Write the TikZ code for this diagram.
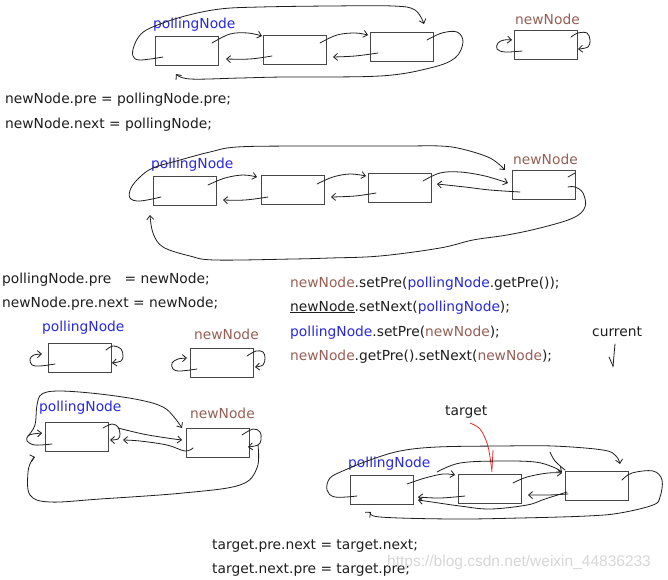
\documentclass[tikz,border=0pt]{standalone}
\usepackage{fontspec}
\setmainfont{DejaVu Sans}
\newfontfamily\wmfont{Liberation Sans}
\usetikzlibrary{arrows.meta}
\definecolor{blu}{RGB}{40,40,225}
\definecolor{brn}{RGB}{150,95,85}
\definecolor{ink}{RGB}{30,30,30}
\definecolor{boxc}{RGB}{70,70,70}
\definecolor{wm}{RGB}{215,215,215}
\definecolor{redpen}{RGB}{235,40,40}
\begin{document}
\begin{tikzpicture}[x=1pt,y=-1pt,
 box/.style={draw=boxc, line width=0.9pt, minimum width=63pt, minimum height=29pt, inner sep=0pt},
 pen/.style={draw=ink, line width=0.8pt, line cap=round, line join=round},
 arr/.style={pen, -{Straight Barb[length=4pt,width=7pt]}},
 txt/.style={anchor=base west, inner sep=0pt, text=ink, font=\fontsize{13.8}{16}\selectfont},
 bl/.style={txt, text=blu},
 br/.style={txt, text=brn},
 sm/.style={smooth, tension=0.6}]
\fill[white] (0,0) rectangle (668,579);
\useasboundingbox (0,0) rectangle (668,579);

% ---------------- Panel 1 ----------------
\node[bl] (l1p) at (153,28) {pollingNode};
\node[br] (l1n) at (515,24) {newNode};
\node[box] (p1a) at (186.5,50.5) {};
\node[box] (p1b) at (295,49.5) {};
\node[box] (p1c) at (402,47) {};
\node[box] (p1n) at (546,45) {};
\draw[arr] plot[sm] coordinates {(212,43) (230,34) (248,33) (262,36)};
\draw[arr] plot[sm] coordinates {(320,43) (337,35) (355,33) (368,35)};
\draw[arr] plot[sm] coordinates {(272,56) (250,59) (226,59)};
\draw[arr] plot[sm] coordinates {(378,53) (355,56) (333,57)};
\draw[arr] plot[sm] coordinates {(163,57) (140,60) (133,56) (134,46) (141,34) (155,26) (185,16) (220,9) (260,7) (330,6) (393,6) (415,10) (424,24)};
\draw[arr] plot[sm] coordinates {(427,40) (442,33) (457,32) (463,42) (455,58) (430,68) (380,76) (283,77) (240,78) (190,79) (176,74)};
\draw[arr] plot[sm] coordinates {(522,51) (505,52) (497,49) (498,43) (504,40) (512,40)};
\draw[arr] plot[sm] coordinates {(571,37) (578,33) (587,33) (590,40) (588,47) (578,49)};

\node[txt] (t1a) at (5,103) {newNode.pre = pollingNode.pre;};
\node[txt] (t1b) at (5,128) {newNode.next = pollingNode;};

% ---------------- Panel 2 ----------------
\node[bl] (l2p) at (151,168) {pollingNode};
\node[br] (l2n) at (513,164) {newNode};
\node[box] (p2a) at (185,191) {};
\node[box] (p2b) at (292.5,190) {};
\node[box] (p2c) at (399.5,187.5) {};
\node[box] (p2n) at (544,185) {};
\draw[arr] plot[sm] coordinates {(208,185) (225,178) (243,175) (257,177)};
\draw[arr] plot[sm] coordinates {(317,184) (333,177) (350,174) (366,176)};
\draw[arr] plot[sm] coordinates {(268,197) (245,200) (223,200)};
\draw[arr] plot[sm] coordinates {(376,193) (355,196) (331,197)};
\draw[arr] plot[sm] coordinates {(161,197) (140,201) (130,198) (131,188) (140,177) (153,168) (180,160) (210,152) (237,147) (300,146) (400,146) (440,146) (462,149) (490,158) (505,170)};
\draw[arr] plot[sm] coordinates {(423,181) (440,173) (460,172) (485,176) (508,183)};
\draw[arr] plot[sm] coordinates {(520,192) (490,190) (465,187) (437,184)};
\draw[pen] (568,177) -- (575,173);
\draw[arr] plot[sm] coordinates {(568,187) (575,187) (583,193) (585,207) (573,218) (540,228) (507,235) (473,240) (440,248) (380,256) (330,258) (293,259) (215,260) (190,256) (163,247) (153,233) (150,215)};

% ---------------- Panel 3 ----------------
\node[txt] (t3a) at (2,283) {pollingNode.pre\ \ \ = newNode;};
\node[txt] (t3b) at (2,307) {newNode.pre.next = newNode;};

\node[txt] (c1) at (290,287) {\textcolor{brn}{newNode}.setPre(\textcolor{blu}{pollingNode}.getPre());};
\node[txt] (c2) at (290,311) {\underline{newNode}.setNext(\textcolor{blu}{pollingNode});};
\node[txt] (c3) at (290,336) {\textcolor{blu}{pollingNode}.setPre(\textcolor{brn}{newNode});};
\node[txt] (c4) at (290,360) {\textcolor{brn}{newNode}.getPre().setNext(\textcolor{brn}{newNode});};
\node[txt] (cur) at (592,336) {current};
\draw[pen] plot[sm] coordinates {(615,344) (614,355) (613,367)};
\draw[pen] (609,357) -- (613,366);

\node[bl] (l3p) at (42,331) {pollingNode};
\node[br] (l3n) at (194,339) {newNode};
\node[box] (p3a) at (80,357.5) {};
\node[box] (p3n) at (221.5,362.5) {};
\draw[arr] plot[sm] coordinates {(55,364) (40,366) (32,365) (30,359) (34,355) (42,354)};
\draw[arr] plot[sm] coordinates {(106,350) (113,346) (121,349) (123,356) (121,361) (112,363)};
\draw[arr] plot[sm] coordinates {(197,369) (180,371) (173,369) (172,363) (178,359) (187,358)};
\draw[arr] plot[sm] coordinates {(247,356) (256,351) (263,352) (265,358) (263,365) (255,367)};

% ---------------- Panel 4 ----------------
\node[bl] (l4p) at (39,411) {pollingNode};
\node[br] (l4n) at (190,418) {newNode};
\node[box] (p4a) at (76.5,437) {};
\node[box] (p4n) at (217.5,442.5) {};
\draw[arr] plot[sm] coordinates {(52,444) (35,445) (27,441) (28,436) (33,434) (42,433)};
\draw[arr] plot[sm] coordinates {(28,436) (35,425) (37,405) (42,394) (60,391) (100,394) (140,400) (163,407) (174,417) (182,428)};
\draw[arr] plot[sm] coordinates {(103,428) (112,424) (118,427) (120,434) (118,439) (110,440)};
\draw[arr] plot[sm] coordinates {(118,428) (143,434) (167,438) (182,440)};
\draw[arr] plot[sm] coordinates {(193,448) (185,451) (167,445) (140,441) (123,440)};
\draw[arr] plot[sm] coordinates {(242,435) (253,429) (260,432) (261,440) (258,445) (248,447)};
\draw[arr] plot[sm] coordinates {(258,445) (257,468) (240,485) (183,493) (100,499) (50,502) (30,495) (28,472) (32,460) (35,457)};

% ---------------- Panel 5 ----------------
\node[txt] (tg) at (445,415) {target};
\draw[redpen, line width=0.8pt] plot[sm] coordinates {(470,423) (480,429) (487,443) (490,457) (492,472)};
\draw[redpen, line width=0.8pt] (493,450) -- (492,469);
\node[bl] (l5p) at (348,467) {pollingNode};
\node[box] (p5a) at (381.5,489.5) {};
\node[box] (p5b) at (490,488.5) {};
\node[box] (p5c) at (596.5,486) {};
\draw[arr] plot[sm] coordinates {(357,496) (335,497) (327,490) (330,478) (345,470) (370,460) (400,451) (437,447) (500,446) (553,446) (603,450) (616,456) (620,464)};
\draw[arr] plot[sm] coordinates {(407,484) (425,478) (443,474) (455,475)};
\draw[arr] plot[sm] coordinates {(437,472) (460,463) (500,461) (535,462) (553,467) (562,472)};
\draw[arr] plot[sm] coordinates {(513,483) (527,477) (548,473) (562,473)};
\draw[pen] plot[sm] coordinates {(550,452) (555,461) (565,470)};
\draw[arr] plot[sm] coordinates {(465,496) (440,498) (418,497)};
\draw[arr] plot[sm] coordinates {(567,492) (545,499) (527,505) (490,509) (460,506) (432,502) (418,500)};
\draw[arr] plot[sm] coordinates {(568,494) (548,495) (528,495)};
\draw[arr] plot[sm] coordinates {(622,480) (632,473) (653,471) (662,480) (660,497) (653,505) (620,513) (587,516) (520,518) (453,519) (380,517) (371,512)};

\node[txt] (t5a) at (212,549) {target.pre.next = target.next;};
\node[txt] (t5b) at (212,573) {target.next.pre = target.pre;};
\node[anchor=base west, inner sep=0pt, text=wm, font=\wmfont\fontsize{15.5}{17}\selectfont] (wmk) at (387,566) {https://blog.csdn.net/weixin\_44836233};
\end{tikzpicture}
\end{document}
